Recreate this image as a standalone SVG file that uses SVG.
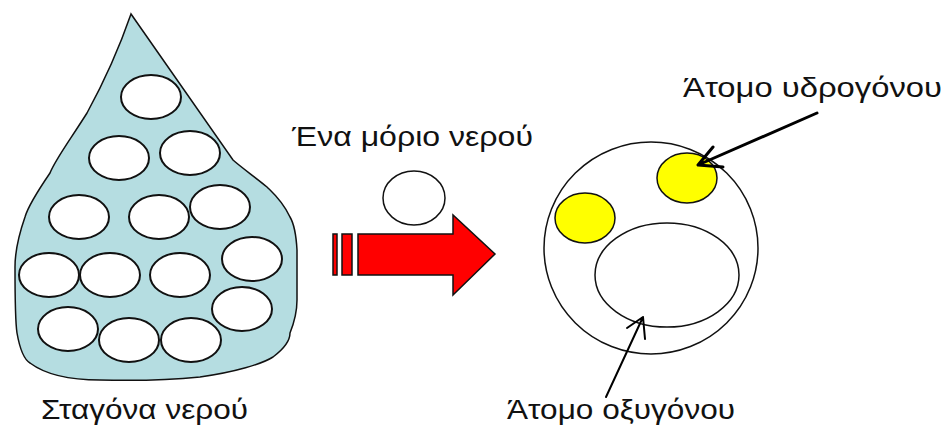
<svg xmlns="http://www.w3.org/2000/svg" width="944" height="425" viewBox="0 0 944 425">
  <style>
    .lbl { font-family: "Liberation Sans", Arial, sans-serif; font-size: 28px; fill: #111; }
    .low { font-size: 27px; }
    .mol { fill: #fff; stroke: #111; stroke-width: 2; }
    .thin { fill: none; stroke: #111; stroke-width: 1.5; }
    .h { fill: #ffff00; stroke: #111; stroke-width: 1.5; }
    .lead { fill: none; stroke: #000; stroke-linecap: round; stroke-linejoin: round; }
  </style>
  <rect width="944" height="425" fill="#fff"/>

  <!-- water drop full of molecules -->
  <g id="drop">
    <path id="drop-fill" d="M131,14 C122,40 105,80 87,113 C70,140 55,160 50,173 C35,195 27,210 25,217 C17,240 15,255 15,267 C15,300 15,320 17,333 C20,350 25,360 30,363 C50,378 80,380 100,380 C140,381 180,379 200,377 C235,372 262,364 273,357 C285,348 290,340 290,333 C296,318 297,308 297,300 C297,280 297,260 297,250 C296,232 293,222 290,217 C282,200 272,192 267,187 C255,177 242,168 233,160 Z" fill="#b5dde1"/>
    <ellipse class="mol" cx="151" cy="97" rx="30" ry="22"/>
    <ellipse class="mol" cx="119" cy="158" rx="30" ry="22"/>
    <ellipse class="mol" cx="190" cy="153" rx="30" ry="22"/>
    <ellipse class="mol" cx="79" cy="217" rx="30" ry="22"/>
    <ellipse class="mol" cx="159" cy="217" rx="30" ry="22"/>
    <ellipse class="mol" cx="220" cy="207" rx="30" ry="22"/>
    <ellipse class="mol" cx="252" cy="259" rx="30" ry="22"/>
    <ellipse class="mol" cx="49" cy="275" rx="30" ry="22"/>
    <ellipse class="mol" cx="110" cy="275" rx="30" ry="22"/>
    <ellipse class="mol" cx="180" cy="275" rx="30" ry="22"/>
    <ellipse class="mol" cx="242" cy="309" rx="30" ry="22"/>
    <ellipse class="mol" cx="68" cy="329" rx="30" ry="22"/>
    <ellipse class="mol" cx="129" cy="340" rx="30" ry="22"/>
    <ellipse class="mol" cx="191" cy="340" rx="30" ry="22"/>
    <path d="M131,14 C122,40 105,80 87,113 C70,140 55,160 50,173 C35,195 27,210 25,217 C17,240 15,255 15,267 C15,300 15,320 17,333 C20,350 25,360 30,363 C50,378 80,380 100,380 C140,381 180,379 200,377 C235,372 262,364 273,357 C285,348 290,340 290,333 C296,318 297,308 297,300 C297,280 297,260 297,250 C296,232 293,222 290,217 C282,200 272,192 267,187 C255,177 242,168 233,160 Z" class="thin"/>
    <text class="lbl low" x="41" y="419" textLength="207" lengthAdjust="spacingAndGlyphs">Σταγόνα νερού</text>
  </g>

  <!-- a single molecule -->
  <g id="single-molecule">
    <ellipse class="thin" cx="414" cy="198" rx="31" ry="27" fill="#fff"/>
    <text class="lbl" x="292" y="146" textLength="241" lengthAdjust="spacingAndGlyphs">Ένα μόριο νερού</text>
  </g>

  <!-- big red arrow -->
  <g id="red-arrow" fill="#ff0000" stroke="#111" stroke-width="1.5" stroke-linejoin="miter">
    <rect x="333" y="234" width="4" height="41"/>
    <rect x="342" y="234" width="10" height="41"/>
    <path d="M358,234 H453 V215 L495,254 L453,295 V275 H358 Z"/>
  </g>

  <!-- enlarged molecule -->
  <g id="molecule-detail">
    <ellipse class="thin" cx="651" cy="248" rx="107" ry="106" fill="#fff"/>
    <ellipse id="hydrogen-1" class="h" cx="687" cy="178" rx="30" ry="25"/>
    <ellipse id="hydrogen-2" class="h" cx="585" cy="218" rx="30" ry="25"/>
    <ellipse id="oxygen" class="thin" cx="667" cy="275" rx="72" ry="52"/>
  </g>

  <g id="connectors">
    <path class="lead" stroke-width="3" d="M817,113 L698,165 M713,147 L698,165 L723,167"/>
    <path class="lead" stroke-width="2" d="M606,397 L643,317 M627,328 L643,317 L645,339"/>
  </g>

  <g id="labels">
    <text class="lbl" x="683" y="97" textLength="259" lengthAdjust="spacingAndGlyphs">Άτομο υδρογόνου</text>
    <text class="lbl low" x="507" y="419" textLength="228" lengthAdjust="spacingAndGlyphs">Άτομο οξυγόνου</text>
  </g>
</svg>
